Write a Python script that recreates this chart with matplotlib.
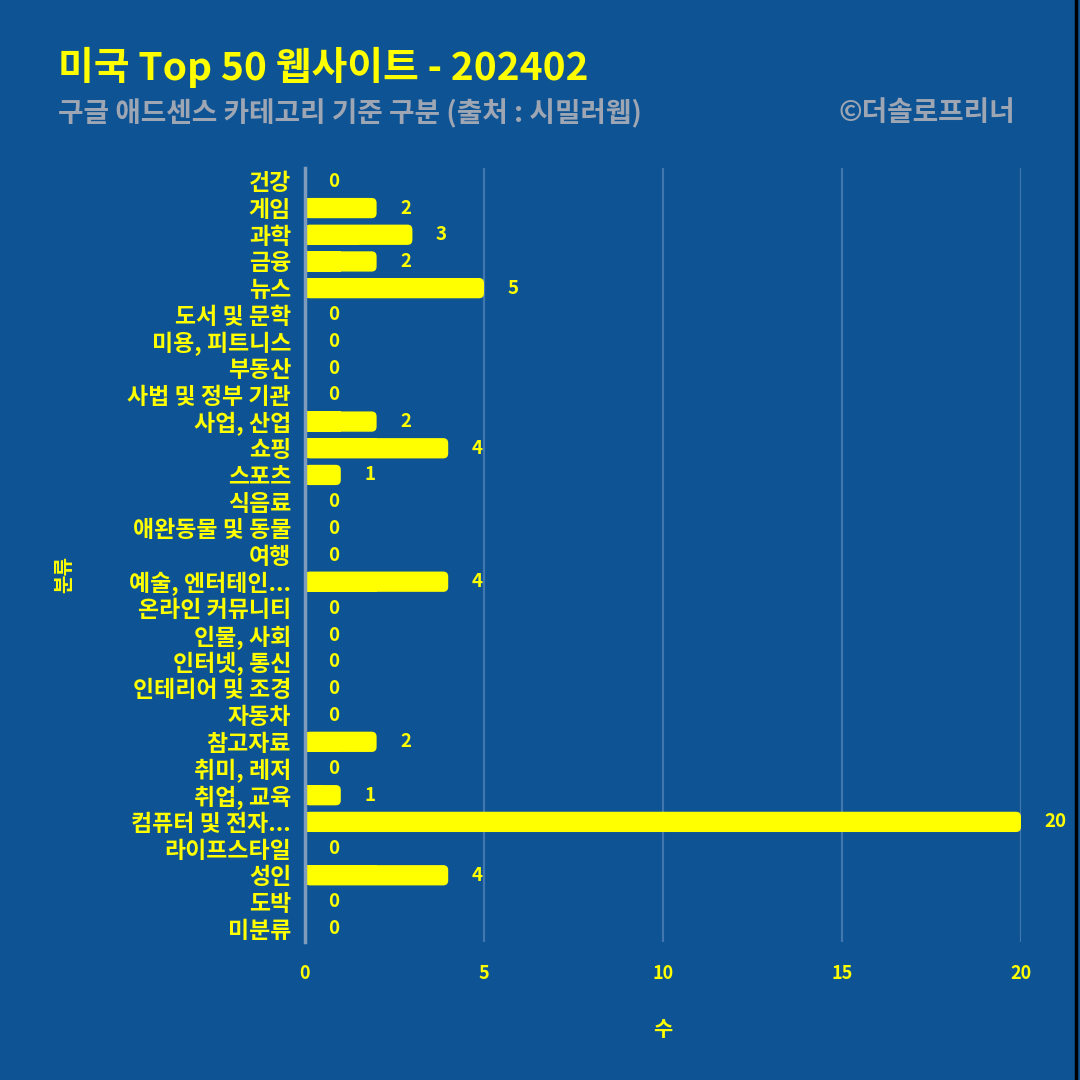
import matplotlib

matplotlib.use("Agg")

import matplotlib.pyplot as plt
from matplotlib.lines import Line2D
from matplotlib.patches import FancyBboxPatch

plt.rcParams["font.family"] = ["Noto Sans CJK KR", "DejaVu Sans"]

categories = [
    "건강", "게임", "과학", "금융", "뉴스", "도서 및 문학", "미용, 피트니스", "부동산",
    "사법 및 정부 기관", "사업, 산업", "쇼핑", "스포츠", "식음료", "애완동물 및 동물",
    "여행", "예술, 엔터테인...", "온라인 커뮤니티", "인물, 사회", "인터넷, 통신",
    "인테리어 및 조경", "자동차", "참고자료", "취미, 레저", "취업, 교육",
    "컴퓨터 및 전자...", "라이프스타일", "성인", "도박", "미분류",
]
counts = [0, 2, 3, 2, 5, 0, 0, 0, 0, 2, 4, 1, 0, 0, 0, 4, 0, 0, 0, 0, 0, 2, 0, 1, 20, 0, 4, 0, 0]
x_ticks = [0, 5, 10, 15, 20]

title = "미국 Top 50 웹사이트 - 202402"
subtitle = "구글 애드센스 카테고리 기준 구분 (출처 : 시밀러웹)"
credit = "©더솔로프리너"

BG = "#0e5394"
YELLOW = "#ffff00"
GREY = "#9ea6b3"

fig = plt.figure(figsize=(10.8, 10.8), dpi=100, facecolor=BG)
ax = fig.add_axes([0.2824, 0.1278, 0.6630, 0.7166], facecolor=BG)

ypos = list(range(len(categories)))
bar_h = 0.76
bars = ax.barh(ypos, counts, height=bar_h, color=YELLOW, linewidth=0, zorder=3)

# rounded right end: full-width rounded patch + square left half from barh
r = 0.14
for rect, v in zip(bars, counts):
    if v <= 0:
        continue
    rect.set_width(v / 2)
    ax.add_patch(FancyBboxPatch(
        (0, rect.get_y()), v, bar_h,
        boxstyle=f"round,pad=0,rounding_size={r}",
        mutation_aspect=1.342, facecolor=YELLOW, edgecolor="none", zorder=3,
    ))

for y, v in zip(ypos, counts):
    ax.annotate(str(v), (v, y), xytext=(17, 0), textcoords="offset points",
                ha="left", va="center", color=YELLOW, fontsize=13.5,
                fontweight="bold", zorder=4)

ax.set_xlim(0, 20)
ax.set_ylim(len(categories) - 0.5, -0.5)
ax.set_yticks(ypos)
ax.set_yticklabels(categories)
ax.set_xticks(x_ticks)

for x in x_ticks[1:]:
    ax.axvline(x, color="#4f80b6", linewidth=1.6, alpha=0.8, zorder=1)

for s in ["top", "right", "bottom"]:
    ax.spines[s].set_visible(False)
ax.spines["left"].set_color("#7f9cbc")
ax.spines["left"].set_linewidth(2.5)
ax.spines["left"].set_zorder(5)

ax.tick_params(axis="both", length=0, colors=YELLOW)
ax.tick_params(axis="y", pad=10)
ax.tick_params(axis="x", pad=16)
for lab in ax.get_yticklabels():
    lab.set_fontsize(16.5)
    lab.set_fontweight("bold")
for lab in ax.get_xticklabels():
    lab.set_fontsize(13)
    lab.set_fontweight("bold")

ax.set_xlabel("수", color=YELLOW, fontsize=15, fontweight="bold", labelpad=26)
fig.text(0.059, 0.468, "분류", rotation=90, color=YELLOW, fontsize=14.5,
         fontweight="bold", ha="center", va="center")

fig.text(0.054, 0.938, title, color=YELLOW, fontsize=28, fontweight="bold",
         ha="left", va="center")
fig.text(0.054, 0.895, subtitle, color=GREY, fontsize=20, fontweight="bold",
         ha="left", va="center")
fig.text(0.940, 0.895, credit, color=GREY, fontsize=20, fontweight="bold",
         ha="right", va="center")

fig.add_artist(Line2D([0.9965, 0.9965], [0, 1], color="black", linewidth=2.5))

fig.savefig("out.png", dpi=100, facecolor=BG)
